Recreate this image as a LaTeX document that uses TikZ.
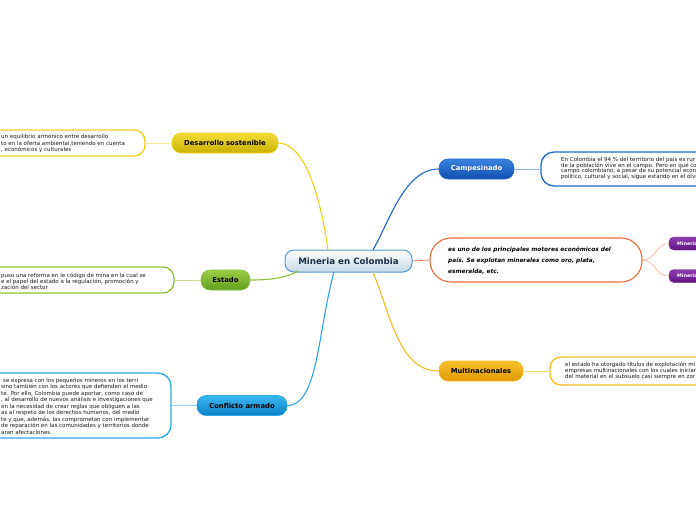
\documentclass[tikz,border=0pt]{standalone}
\usepackage{fontspec}
\setmainfont{DejaVu Sans}
\definecolor{cenB}{HTML}{5A9AD0}
\definecolor{cenT}{HTML}{1C2E4C}
\definecolor{cenF}{HTML}{C5D6E6}
\definecolor{yelA}{HTML}{F2DE3A}
\definecolor{yelB}{HTML}{C9B000}
\definecolor{yelL}{HTML}{F0D21C}
\definecolor{greA}{HTML}{9ACD45}
\definecolor{greB}{HTML}{62A01E}
\definecolor{greL}{HTML}{8EC23A}
\definecolor{lbA}{HTML}{3CB8F0}
\definecolor{lbB}{HTML}{0A80C4}
\definecolor{lbL}{HTML}{2CA8E8}
\definecolor{blA}{HTML}{3A84E0}
\definecolor{blB}{HTML}{0E4EAE}
\definecolor{blL}{HTML}{2066D2}
\definecolor{orA}{HTML}{F8C030}
\definecolor{orB}{HTML}{E09800}
\definecolor{orL}{HTML}{F8BC20}
\definecolor{redL}{HTML}{F26A3C}
\definecolor{pinkL}{HTML}{F8B8A0}
\definecolor{puA}{HTML}{8E3CB0}
\definecolor{puB}{HTML}{5E1680}
\tikzset{
  topic/.style={rectangle, rounded corners=9pt, minimum height=20pt, inner sep=0pt,
    font=\fontsize{6.8}{8}\selectfont\bfseries, line width=0.6pt},
  tbox/.style={rectangle, rounded corners=11pt, fill=white, line width=1.3pt, inner sep=0pt},
  small/.style={font=\fontsize{5.5}{6.5}\selectfont, align=left, anchor=west, inner sep=0pt, text=black!90},
  link/.style={line width=1.1pt},
  thin/.style={line width=0.7pt},
}
\begin{document}
\begin{tikzpicture}[x=1pt,y=-1pt]
\clip (0,0) rectangle (696,520);
\fill[white] (0,0) rectangle (696,520);

% central
\node[rectangle, rounded corners=9pt, minimum width=127pt, minimum height=22pt, inner sep=0pt,
  draw=cenB, line width=1pt, top color=white, bottom color=cenF, text=cenT,
  font=\fontsize{8.7}{10}\selectfont\bfseries] (c) at (348.5,261) {Mineria en Colombia};

% topics
\node[topic, top color=yelA, bottom color=yelB, draw=yelL, minimum width=106pt] (ds) at (225,143) {Desarrollo sostenible};
\node[topic, top color=greA, bottom color=greB, draw=greL, minimum width=49pt] (es) at (225.5,280) {Estado};
\node[topic, top color=lbA, bottom color=lbB, draw=lbL, minimum width=90pt] (ca) at (242,405.5) {Conflicto armado};
\node[topic, top color=blA, bottom color=blB, draw=blL, minimum width=75pt, text=white] (cp) at (476.5,169) {Campesinado};
\node[topic, top color=orA, bottom color=orB, draw=orL, minimum width=84pt] (mu) at (481,371) {Multinacionales};

% text boxes
\node[tbox, draw=yelL, minimum width=165pt, minimum height=26pt] (dsb) at (62.5,143) {};
\node[tbox, draw=greL, minimum width=194pt, minimum height=26pt] (esb) at (77,280) {};
\node[tbox, draw=lbL, minimum width=191pt, minimum height=65pt, rounded corners=13pt] (cab) at (75.5,405.5) {};
\node[tbox, draw=blL, minimum width=199pt, minimum height=34pt, rounded corners=13pt] (cpb) at (640.5,169) {};
\node[tbox, draw=orL, minimum width=190pt, minimum height=28pt] (mub) at (645,371) {};
\node[tbox, draw=redL, minimum width=212pt, minimum height=44pt, rounded corners=21pt, line width=1.1pt] (orb) at (536,260) {};

% purple
\node[rectangle, rounded corners=5pt, top color=puA, bottom color=puB, draw=puB, minimum width=51pt, minimum height=13pt, inner sep=0pt] (p1) at (694.5,243.5) {};
\node[rectangle, rounded corners=5pt, top color=puA, bottom color=puB, draw=puB, minimum width=51pt, minimum height=13pt, inner sep=0pt] (p2) at (694.5,276) {};
\node[anchor=west, inner sep=0pt, text=white, font=\fontsize{4.8}{5}\selectfont\bfseries] (p1t) at (677,243.5) {Minería};
\node[anchor=west, inner sep=0pt, text=white, font=\fontsize{4.8}{5}\selectfont\bfseries] (p2t) at (677,276) {Minería};

% texts
\node[small] (dst) at (1,143.5) {un equilibrio armónico entre desarrollo\\to en la oferta ambiental,teniendo en cuenta\\, económicos y culturales};
\node[small, font=\fontsize{5.5}{5.9}\selectfont] (est) at (1,281) {puso una reforma en le código de mina en la cual se\\e el papel del estado a la regulación, promoción y\\zación del sector};
\node[small] (cat) at (1,406) {\hspace{2pt}se expresa con los pequeños mineros en los terri\\sino también con los actores que defienden el medio\\te. Por ello, Colombia puede aportar, como caso de\\, al desarrollo de nuevos análisis e investigaciones que\\en la necesidad de crear reglas que obliguen a las\\as al respeto de los derechos humanos, del medio\\te y que, además, las comprometan con implementar\\de reparación en las comunidades y territorios donde\\aran afectaciones.};
\node[small, font=\fontsize{5.5}{5.7}\selectfont] (cpt) at (561,168.5) {En Colombia el 94 \% del territorio del país es rur\\de la población vive en el campo. Pero en qué co\\campo colombiano, a pesar de su potencial econ\\político, cultural y social, sigue estando en el olvi};
\node[small, font=\fontsize{5.5}{5.8}\selectfont] (mut) at (565,371) {el estado ha otorgado títulos de explotación mi\\empresas multinacionales con los cuales inician\\del material en el subsuelo casi siempre en zor};
\node[small, font=\fontsize{5.8}{11}\selectfont\bfseries\itshape, text=black] (ort) at (448,261) {es uno de los principales motores económicos del\\país. Se explotan minerales como oro, plata,\\esmeralda, etc.};

% coordinates on central node
\coordinate (cy) at (328,250);
\coordinate (cb) at (373,250);
\coordinate (cg) at (298,271);
\coordinate (cl) at (334,272);
\coordinate (co) at (373,272);

% main connectors
\draw[link, yelL] (cy) .. controls (318,180) and (300,143) .. (ds.east);
\draw[link, blL] (cb) .. controls (390,220) and (405,169) .. (cp.west);
\draw[link, greL] (cg) .. controls (285,279) and (265,280) .. (es.east);
\draw[link, lbL] (cl) .. controls (318,330) and (318,406) .. (ca.east);
\draw[link, orL] (co) .. controls (392,320) and (400,371) .. (mu.west);
\draw[thin, redL] (c.east) -- (orb.west);

% thin connectors
\draw[thin, yelL!50] (dsb.east) -- (ds.west);
\draw[thin, greL!55] (esb.east) -- (es.west);
\draw[thin, lbL!50] (cab.east) -- (ca.west);
\draw[thin, blL!50] (cp.east) -- (cpb.west);
\draw[thin, orL!55] (mu.east) -- (mub.west);
\draw[thin, pinkL] (orb.east) .. controls (656,261) and (655,243.5) .. (p1.west);
\draw[thin, pinkL] (orb.east) .. controls (656,261) and (655,276) .. (p2.west);
\end{tikzpicture}
\end{document}
